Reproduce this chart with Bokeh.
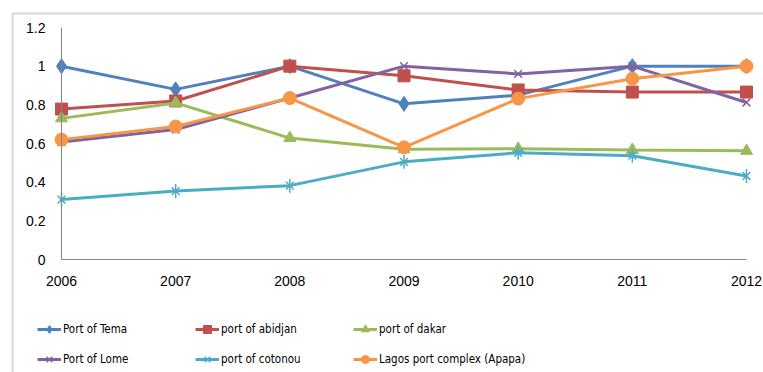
from bokeh.plotting import figure
from bokeh.models import (Range1d, FixedTicker, Legend, LegendItem, BoxAnnotation)
from bokeh.embed import file_html
from bokeh.resources import INLINE

years = [2006, 2007, 2008, 2009, 2010, 2011, 2012]
tema = [1.0, 0.88, 1.0, 0.805, 0.85, 1.0, 1.0]
abidjan = [0.778, 0.82, 1.0, 0.95, 0.877, 0.866, 0.866]
dakar = [0.73, 0.81, 0.628, 0.57, 0.573, 0.567, 0.562]
lome = [0.608, 0.672, 0.835, 1.0, 0.96, 1.0, 0.812]
cotonou = [0.31, 0.354, 0.382, 0.505, 0.552, 0.537, 0.432]
lagos = [0.62, 0.688, 0.835, 0.58, 0.832, 0.935, 1.0]

series_names = ["Port of Tema", "port of abidjan", "port of dakar",
                "Port of Lome", "port of cotonou", "Lagos port complex (Apapa)"]
y_ticks = [0, 0.2, 0.4, 0.6, 0.8, 1, 1.2]
y_tick_labels = ["0", "0.2", "0.4", "0.6", "0.8", "1", "1.2"]

W, H = 763, 372
X0PX, X1PX = 61, 746                  # pixel of first / last year
Y0PX, Y1PX = 259, 27                  # pixel of 0 / 1.2

xs = (X1PX - X0PX) / (years[-1] - years[0])
ys = (Y0PX - Y1PX) / (y_ticks[-1] - y_ticks[0])
x_start = years[0] - X0PX / xs
x_end = x_start + W / xs
y_start = y_ticks[0] - (H - Y0PX) / ys
y_end = y_start + H / ys

p = figure(width=W, height=H, output_backend="svg", toolbar_location=None,
           x_range=Range1d(x_start, x_end), y_range=Range1d(y_start, y_end),
           min_border=0)
p.outline_line_color = None
p.xgrid.visible = False
p.ygrid.visible = False
p.background_fill_color = "white"
p.border_fill_color = "white"

tick_font = "Liberation Sans"
axis_col = "#868686"
for ax in (p.xaxis[0], p.yaxis[0]):
    ax.axis_line_color = axis_col
    ax.axis_line_width = 1
    ax.major_tick_line_color = None
    ax.minor_tick_line_color = None
    ax.major_tick_out = 0
    ax.major_tick_in = 0
    ax.major_label_text_font = tick_font
    ax.major_label_text_font_size = "14px"
    ax.major_label_text_color = "#000000"
p.xaxis[0].ticker = FixedTicker(ticks=years)
p.xaxis[0].fixed_location = y_ticks[0]
p.xaxis[0].bounds = (years[0], years[-1])
p.xaxis[0].major_label_standoff = 16
p.yaxis[0].ticker = FixedTicker(ticks=y_ticks)
p.yaxis[0].fixed_location = years[0]
p.yaxis[0].bounds = (y_ticks[0], y_ticks[-1])
p.yaxis[0].major_label_overrides = {t: l for t, l in zip(y_ticks, y_tick_labels)}
p.yaxis[0].major_label_standoff = 16

# chart-area border (top and left edges visible)
border = BoxAnnotation(left=x_start + 12 / xs, right=x_end + 1, top=y_end - 13 / ys,
                       bottom=y_start - 1, fill_alpha=0, line_color="#7F7F7F",
                       line_width=2)
p.add_layout(border)

colors = ["#4F81BD", "#C0504D", "#9BBB59", "#8064A2", "#4BACC6", "#F79646"]
data = [tema, abidjan, dakar, lome, cotonou, lagos]
LW = 3
items = []
for name, vals, col in zip(series_names, data, colors):
    rs = [p.line(years, vals, line_color=col, line_width=LW)]
    if name == "Port of Tema":
        rs.append(p.scatter(years, vals, marker="diamond", size=15, fill_color=col, line_color=col))
    elif name == "port of abidjan":
        rs.append(p.scatter(years, vals, marker="square", size=12, fill_color=col, line_color=col))
    elif name == "port of dakar":
        rs.append(p.scatter(years, vals, marker="triangle", size=12, fill_color=col, line_color=col))
    elif name == "Port of Lome":
        rs.append(p.scatter(years, vals, marker="x", size=11, line_color=col, line_width=1.5))
    elif name == "port of cotonou":
        rs.append(p.scatter(years, vals, marker="x", size=11, line_color=col, line_width=1.5))
        rs.append(p.scatter(years, vals, marker="dash", size=14, angle=1.5708, line_color=col, line_width=1.5))
    else:
        rs.append(p.scatter(years, vals, marker="circle", size=13, fill_color=col, line_color=col))
    items.append(LegendItem(label=name, renderers=rs))

legend = Legend(items=items, location=(37, H - 369),
                orientation="horizontal", ncols=3,
                glyph_width=24, glyph_height=20, label_height=20,
                label_width=122, label_standoff=2, spacing=10,
                padding=0, margin=0, border_line_color=None,
                background_fill_alpha=0,
                label_text_font="DejaVu Sans Condensed, Liberation Sans",
                label_text_font_size="11.5px", label_text_color="#000000")
p.add_layout(legend, "center")

open("out.html", "w").write(file_html(p, INLINE))
